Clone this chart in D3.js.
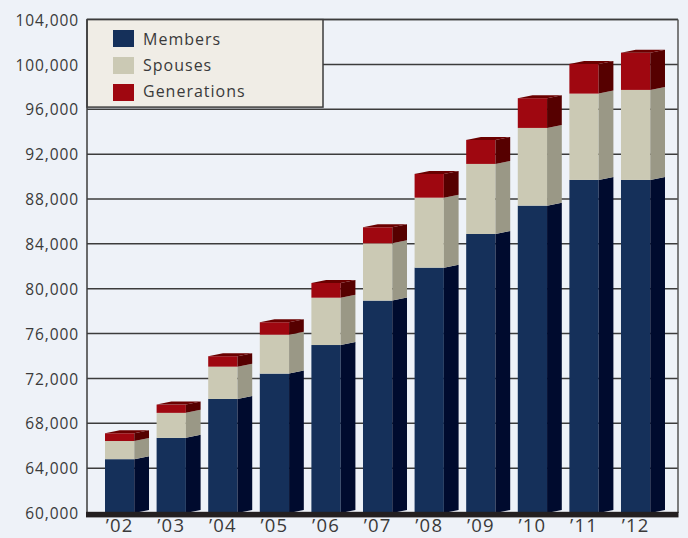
<!DOCTYPE html>
<html><head><meta charset="utf-8">
<script src="https://cdn.jsdelivr.net/npm/d3@7"></script>
<style>
html,body{margin:0;padding:0;background:#eef2f8;}
svg{display:block;}
text{font-family:"Open Sans",sans-serif;fill:#3a3a3a;}
</style></head>
<body><svg id="c" width="688" height="538"></svg>
<script>
const years = ["’02","’03","’04","’05","’06","’07","’08","’09","’10","’11","’12"];
const members = [64800,66700,70170,72430,74980,78940,81880,84880,87410,89700,89700];
const spouses = [1620,2230,2880,3470,4220,5110,6240,6250,6930,7700,8030];
const generations = [690,740,930,1110,1310,1430,2120,2140,2650,2650,3320];
const seriesNames = ["Members","Spouses","Generations"];
const tickValues = [60000,64000,68000,72000,76000,80000,84000,88000,92000,96000,100000,104000];

const front = ["#15305a","#cbc9b4","#9f0710"];
const side = ["#000b2e","#9a9886","#560000"];
const topC = "#6b0000";

const svg = d3.select("#c");
const L=87, R=678, T=19.6, B=513;
const y = d3.scaleLinear().domain([60000,104000]).range([B,T]);
const x = d3.scaleBand().domain(years).range([87,683]).paddingInner(0.147).paddingOuter(0.349);
const bw = x.bandwidth();
const fw = bw*0.665, dx = bw-fw, dy = 3;

// gridlines
svg.append("g").selectAll("line").data(tickValues.slice(1)).join("line")
  .attr("x1",L).attr("x2",R).attr("y1",d=>y(d)).attr("y2",d=>y(d))
  .attr("stroke","#3c3c3c").attr("stroke-width",1.5);

// y axis labels
const ax = svg.append("g").attr("transform",`translate(${L-8},0)`)
  .call(d3.axisLeft(y).tickValues(tickValues).tickFormat(d3.format(",")).tickSize(0).tickPadding(0));
ax.select(".domain").remove();
ax.selectAll("text").style("font-family","'Open Sans',sans-serif").style("font-size","15.5px")
  .style("letter-spacing","0.9px").attr("fill","#3a3a3a").attr("dy","0.36em");

// stacked data
const rows = years.map((yr,i)=>({yr, v:[members[i],spouses[i],generations[i]]}));
const bars = svg.append("g");
rows.forEach(r=>{
  const x0 = x(r.yr);
  let base = 60000;
  r.v.forEach((val,k)=>{
    const lo = base, hi = (k===0? val : base+val);
    base = hi;
    const y0=y(lo), y1=y(hi);
    bars.append("rect").attr("x",x0).attr("y",y1).attr("width",fw).attr("height",y0-y1).attr("fill",front[k]);
    bars.append("path").attr("d",`M${x0+fw},${y1}L${x0+fw+dx},${y1-dy}L${x0+fw+dx},${y0-dy}L${x0+fw},${y0}Z`).attr("fill",side[k]);
    if(k===2){
      bars.append("path").attr("d",`M${x0},${y1}L${x0+fw},${y1}L${x0+fw+dx},${y1-dy}L${x0+dx},${y1-dy}Z`).attr("fill",topC);
    }
  });
});

// x labels
svg.append("g").selectAll("text").data(years).join("text")
  .attr("x",d=>x(d)+fw/2).attr("y",532).attr("text-anchor","middle")
  .style("font-size","18.5px").style("letter-spacing","1.2px").text(d=>d);

// borders
svg.append("line").attr("x1",L).attr("x2",R).attr("y1",T).attr("y2",T).attr("stroke","#3c3c3c").attr("stroke-width",1.5);
svg.append("line").attr("x1",R).attr("x2",R).attr("y1",T).attr("y2",B).attr("stroke","#555").attr("stroke-width",1.5);

// legend
const lg = svg.append("g");
lg.append("rect").attr("x",L).attr("y",T).attr("width",236).attr("height",87.5)
  .attr("fill","#f0ede6").attr("stroke","#3c3c3c").attr("stroke-width",1.5);
seriesNames.forEach((n,k)=>{
  lg.append("rect").attr("x",113).attr("y",30+k*27).attr("width",21).attr("height",17).attr("fill",front[k]);
  lg.append("text").attr("x",143).attr("y",44.5+k*26.2).style("font-size","16px").style("letter-spacing","1px").text(n);
});

// left axis line
svg.append("line").attr("x1",L).attr("x2",L).attr("y1",T).attr("y2",B).attr("stroke","#3c3c3c").attr("stroke-width",1.5);
// baseline band
svg.append("rect").attr("x",L-1).attr("y",511.8).attr("width",R-L+1.5).attr("height",5.6).attr("fill","#231f20");
</script></body></html>
